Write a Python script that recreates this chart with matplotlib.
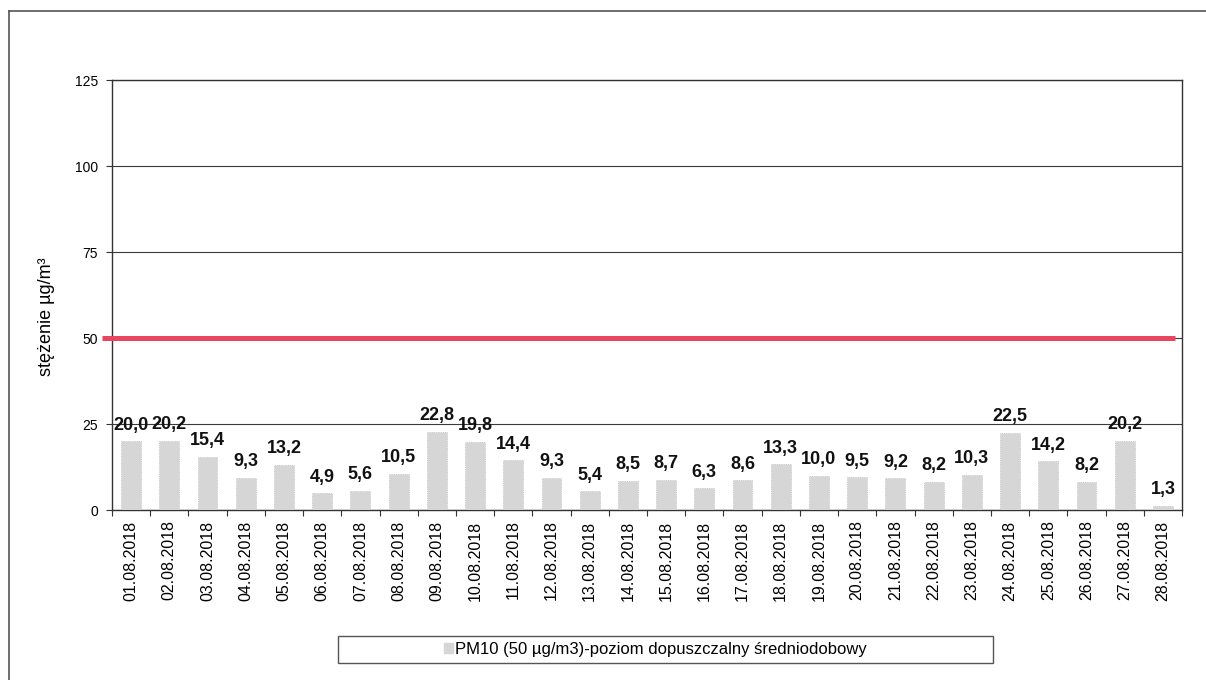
import matplotlib
matplotlib.use("Agg")
import matplotlib.pyplot as plt
from matplotlib.lines import Line2D
from matplotlib.patches import Rectangle, Patch

plt.rcParams['font.family'] = ['Liberation Sans', 'DejaVu Sans']

dates = ["01.08.2018", "02.08.2018", "03.08.2018", "04.08.2018", "05.08.2018",
         "06.08.2018", "07.08.2018", "08.08.2018", "09.08.2018", "10.08.2018",
         "11.08.2018", "12.08.2018", "13.08.2018", "14.08.2018", "15.08.2018",
         "16.08.2018", "17.08.2018", "18.08.2018", "19.08.2018", "20.08.2018",
         "21.08.2018", "22.08.2018", "23.08.2018", "24.08.2018", "25.08.2018",
         "26.08.2018", "27.08.2018", "28.08.2018"]
pm10 = [20.0, 20.2, 15.4, 9.3, 13.2, 4.9, 5.6, 10.5, 22.8, 19.8,
        14.4, 9.3, 5.4, 8.5, 8.7, 6.3, 8.6, 13.3, 10.0, 9.5,
        9.2, 8.2, 10.3, 22.5, 14.2, 8.2, 20.2, 1.3]
limit = 50
yticks = [0, 25, 50, 75, 100, 125]
series_label = "PM10 (50 µg/m3)-poziom dopuszczalny średniodobowy"
ylabel = "stężenie µg/m³"

W, H = 1206, 680
fig = plt.figure(figsize=(W / 100, H / 100), dpi=100)
ax = fig.add_axes([112 / W, 1 - 510 / H, (1182 - 112) / W, (510 - 80) / H])

x = list(range(len(dates)))
bar_color = "#d6d6d6"
ax.bar(x, pm10, width=0.52, color=bar_color, edgecolor="#bdbdbd",
       linewidth=0.6, linestyle=":", zorder=3)

for xi, v in zip(x, pm10):
    ax.annotate(f"{v:.1f}".replace(".", ","), (xi, v), xytext=(0, 5.5),
                textcoords="offset points", ha="center", va="bottom",
                fontsize=13, fontweight="bold", color="#111111", zorder=5)

# limit line (extends slightly left of the axis)
ax.plot([-0.009, 0.9935], [limit, limit], transform=ax.get_yaxis_transform(),
        color="#e8465e", linewidth=3.6, solid_capstyle="butt",
        clip_on=False, zorder=4)

ax.set_xlim(-0.5, len(dates) - 0.5)
ax.set_ylim(0, 125)
ax.set_yticks(yticks)
ax.set_yticklabels([str(t) for t in yticks], fontsize=10)
ax.yaxis.grid(True, color="#3a3a3a", linewidth=0.8)
ax.set_axisbelow(True)

ax.set_xticks(x)
ax.set_xticklabels(dates, rotation=90, fontsize=11.5)
ax.set_xticks([i + 0.5 for i in range(-1, len(dates))], minor=True)
ax.tick_params(axis="x", which="major", length=0, pad=7.5)
ax.tick_params(axis="x", which="minor", length=4, width=0.8, color="#333333")
ax.tick_params(axis="y", length=4, width=0.8, color="#333333", pad=6)

for s in ax.spines.values():
    s.set_color("#333333")
    s.set_linewidth(1.0)

ax.set_ylabel(ylabel, fontsize=13)
ax.yaxis.set_label_coords((55 - 112) / 1070, (510 - 317) / 430)

# legend box
lx0, lx1, ly0, ly1 = 338, 993, 636, 663
fig.add_artist(Rectangle((lx0 / W, 1 - ly1 / H), (lx1 - lx0) / W, (ly1 - ly0) / H,
                         transform=fig.transFigure, facecolor="white",
                         edgecolor="#555555", linewidth=1.0))
handle = Patch(facecolor=bar_color, edgecolor=bar_color)
fig.legend([handle], [series_label], loc="center",
           bbox_to_anchor=(655 / W, 1 - (ly0 + ly1) / 2 / H),
           frameon=False, fontsize=12, handlelength=0.55, handleheight=0.6,
           handletextpad=0.1, borderpad=0)

# outer frame (top and left edges visible)
fig.add_artist(Line2D([9 / W, 1], [1 - 11 / H, 1 - 11 / H], transform=fig.transFigure,
                      color="#555555", linewidth=1.2))
fig.add_artist(Line2D([9 / W, 9 / W], [0, 1 - 11 / H], transform=fig.transFigure,
                      color="#555555", linewidth=1.2))

fig.savefig("out.png", dpi=100)
